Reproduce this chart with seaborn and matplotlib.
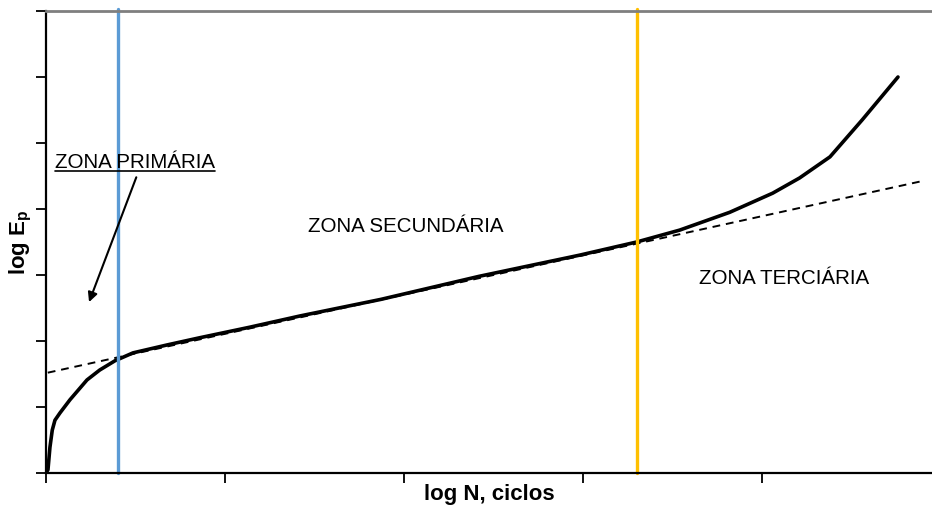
import matplotlib
matplotlib.use("Agg")
import matplotlib.pyplot as plt
import seaborn as sns
import pandas as pd

# Curva de deformação permanente (leitura aproximada do gráfico)
curve_x = [0.0, 0.011, 0.022, 0.035, 0.05, 0.078, 0.134, 0.229, 0.30, 0.385, 0.486,
           0.676, 0.86, 1.14, 1.42, 1.87, 1.98, 2.42, 2.98, 3.30, 3.54, 3.82, 4.06,
           4.21, 4.38, 4.56, 4.76]
curve_y = [0.0, 0.05, 0.39, 0.65, 0.80, 0.91, 1.11, 1.41, 1.56, 1.70, 1.82,
           1.94, 2.05, 2.21, 2.38, 2.63, 2.70, 2.98, 3.30, 3.50, 3.68, 3.95, 4.24,
           4.47, 4.79, 5.35, 6.00]

# Reta de tendência da zona secundária
trend_x = [0.01, 4.89]
trend_y = [1.52, 4.42]

# Limites das zonas
zone_limits = [0.40, 3.30]
zone_colors = ["#5b9bd5", "#ffc000"]

x_ticks = [0, 1, 2, 3, 4]
y_ticks = [0, 1, 2, 3, 4, 5, 6, 7]

sns.set_theme(style="white")
plt.rcParams["font.family"] = ["Liberation Sans", "DejaVu Sans"]
plt.rcParams["text.color"] = "black"

fig = plt.figure(figsize=(9.32, 5.09), dpi=100)
ax = fig.add_axes([46 / 932, 36 / 509, 1 - 46 / 932, 462 / 509])

df = pd.DataFrame({"logN": curve_x, "logE": curve_y})
sns.lineplot(data=df, x="logN", y="logE", ax=ax, color="black", lw=2.6, sort=False)
ax.plot(trend_x, trend_y, color="black", lw=1.4, ls=(0, (4, 3)))

for xv, c in zip(zone_limits, zone_colors):
    ax.axvline(xv, color=c, lw=2.4, ymin=0, ymax=1.005, clip_on=False)

ax.set_xlim(0, 4.95)
ax.set_ylim(0, 7)
ax.set_xticks(x_ticks)
ax.set_yticks(y_ticks)
ax.set_xticklabels([])
ax.set_yticklabels([])
ax.tick_params(axis="both", direction="out", length=7, width=1.3, color="black",
               bottom=True, left=True, pad=0)

for s in ["left", "bottom"]:
    ax.spines[s].set_color("black")
    ax.spines[s].set_linewidth(1.6)
ax.spines["top"].set_color("#7f7f7f")
ax.spines["top"].set_linewidth(2)
ax.spines["right"].set_visible(False)

ax.set_xlabel("log N, ciclos", fontsize=16, fontweight="bold", color="black", labelpad=1)
ax.set_ylabel(r"log E$_{\mathregular{p}}$", fontsize=16, fontweight="bold",
              color="black", labelpad=2)

fs = 14.8
t1 = ax.text(0.05, 4.70, "ZONA PRIMÁRIA", fontsize=fs, ha="left", va="center")
ax.text(2.01, 3.74, "ZONA SECUNDÁRIA", fontsize=fs, ha="center", va="center")
ax.text(3.65, 2.95, "ZONA TERCIÁRIA", fontsize=fs, ha="left", va="center")

# sublinhado do texto da zona primária
fig.canvas.draw()
bb = t1.get_window_extent().transformed(ax.transData.inverted())
ax.plot([bb.x0, bb.x1], [bb.y0 + 0.02, bb.y0 + 0.02], color="black", lw=1.2)

ax.annotate("", xy=(0.235, 2.55), xytext=(0.51, 4.52),
            arrowprops=dict(arrowstyle="-|>", color="black", lw=1.5,
                            mutation_scale=14))

fig.savefig("out.png", dpi=100)
